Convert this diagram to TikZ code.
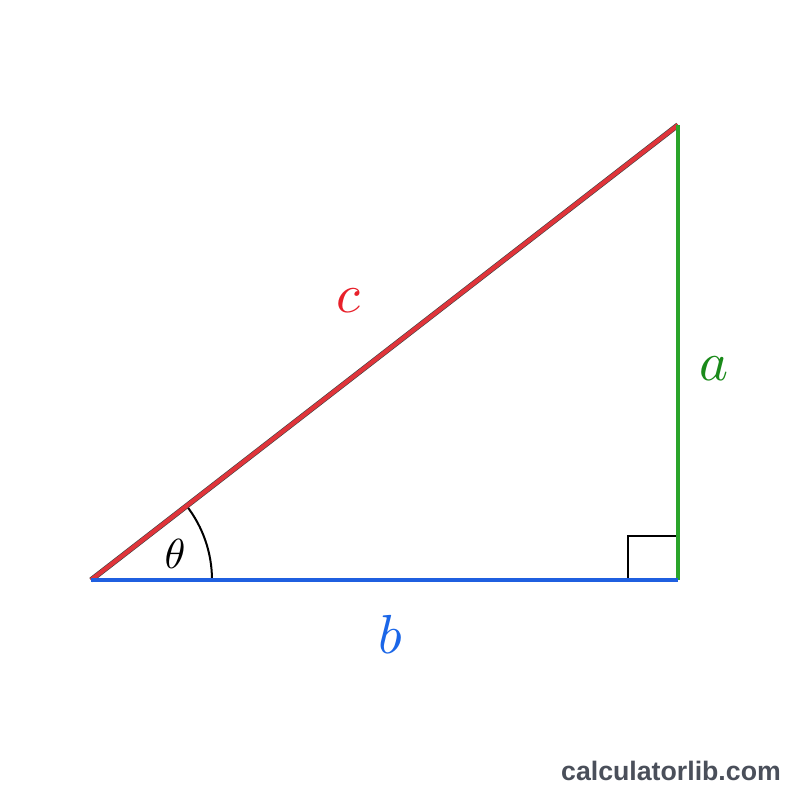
\documentclass[tikz,border=0pt]{standalone}
\usepackage{fontspec}
\newfontfamily\wmfont{Liberation Sans}
\definecolor{hypred}{HTML}{E0343A}
\definecolor{oppgreen}{HTML}{2AA42A}
\definecolor{adjblue}{HTML}{1F5FE0}
\definecolor{labred}{HTML}{E8202A}
\definecolor{labgreen}{HTML}{1A8A1A}
\definecolor{labblue}{HTML}{1A66E8}
\definecolor{wmgray}{HTML}{4A4F5A}
\begin{document}
\begin{tikzpicture}[x=1pt,y=-1pt,
  side/.style={line width=4.2pt,line cap=butt},
  sideout/.style={line width=5.4pt,draw=black!75},
  lab/.style={inner sep=0pt},
  thin/.style={line width=2pt,draw=black}]
\useasboundingbox[fill=white] (0,0) rectangle (800,800);
\coordinate (A) at (91,580);
\coordinate (B) at (678,580);
\coordinate (C) at (678,125);
% right angle mark
\coordinate (R1) at (628,580);
\coordinate (R2) at (628,536);
\coordinate (R3) at (678,536);
\draw[thin] (R1) -- (R2) -- (R3);
% angle arc
\draw[thin] ([shift={(121,0)}]A) arc[start angle=0,end angle=-37.8,radius=121];
% outlines
\draw[sideout] (A) -- (C);
\draw[side,draw=hypred] (A) -- (C);
\draw[side,draw=oppgreen] (B) -- (C);
\draw[side,draw=adjblue] (A) -- (B);
% labels
\node[lab,text=labred] (lc) at (348,301) {\scalebox{5.5}{$c$}};
\node[lab,text=labgreen] (la) at (714,369) {\scalebox{5.5}{$a$}};
\node[lab,text=labblue] (lb) at (390,634) {\scalebox{5.5}{$b$}};
\node[lab] (lt) at (175,554) {\scalebox{4.2}{$\theta$}};
\node[inner sep=0pt,anchor=base west,text=wmgray,font=\wmfont\bfseries\fontsize{26.7}{30}\selectfont] (wm) at (561,780) {calculatorlib.com};
\end{tikzpicture}
\end{document}
